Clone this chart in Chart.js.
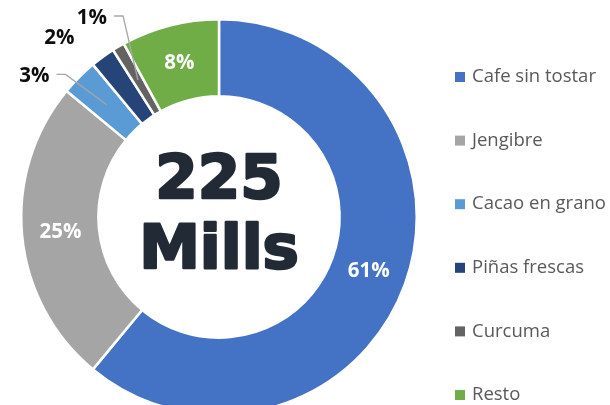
<!DOCTYPE html>
<html>
<head>
<meta charset="utf-8">
<script src="https://cdn.jsdelivr.net/npm/chart.js@4.4.1/dist/chart.umd.min.js"></script>
<style>
  html, body { margin: 0; padding: 0; background: #fff; }
  #wrap { width: 610px; height: 405px; overflow: hidden; }
</style>
</head>
<body>
<div id="wrap"><canvas id="myChart" width="610" height="440"></canvas></div>
<script>
const categories = ['Cafe sin tostar', 'Jengibre', 'Cacao en grano', 'Piñas frescas', 'Curcuma', 'Resto'];
const shares = [61, 25, 3, 2, 1, 8];
const centerLines = ['225', 'Mills'];

const colors = ['#4472C4', '#A5A5A5', '#5B9BD5', '#264478', '#636363', '#70AD47'];
// small slices get their label outside: offset from slice middle, and whether a leader line is drawn
const outsideLabels = { 2: [-72, -28, true], 3: [-66, -50, false], 4: [-46, -62, true] };

const sliceLabels = {
    id: 'sliceLabels',
    afterDatasetsDraw(chart) {
        const ctx = chart.ctx;
        const meta = chart.getDatasetMeta(0);
        ctx.save();
        ctx.font = 'bold 20.5px "Open Sans"';
        ctx.textAlign = 'center';
        ctx.textBaseline = 'middle';
        meta.data.forEach((arc, i) => {
            const p = arc.tooltipPosition();
            const txt = shares[i] + '%';
            const out = outsideLabels[i];
            if (!out) {
                ctx.fillStyle = '#fff';
                ctx.fillText(txt, p.x, p.y);
                return;
            }
            const tx = p.x + out[0], ty = p.y + out[1];
            ctx.fillStyle = '#0d0d0d';
            ctx.fillText(txt, tx, ty);
            if (out[2]) {
                const w = ctx.measureText(txt).width;
                ctx.strokeStyle = '#a6a6a6';
                ctx.lineWidth = 1.3;
                ctx.beginPath();
                ctx.moveTo(tx + w / 2 + 7, ty - 2);
                ctx.lineTo(tx + w / 2 + 16, ty - 2);
                ctx.lineTo(p.x, p.y);
                ctx.stroke();
            }
        });
        ctx.restore();
    }
};

const centerText = {
    id: 'centerText',
    afterDraw(chart) {
        const ctx = chart.ctx;
        const arc = chart.getDatasetMeta(0).data[0];
        ctx.save();
        ctx.fillStyle = '#222A35';
        ctx.strokeStyle = '#222A35';
        ctx.lineWidth = 2.5;
        ctx.lineJoin = 'round';
        ctx.textAlign = 'center';
        ctx.textBaseline = 'alphabetic';
        ctx.font = 'bold 61px "DejaVu Sans"';
        ctx.fillText(centerLines[0], arc.x, arc.y - 19);
        ctx.strokeText(centerLines[0], arc.x, arc.y - 19);
        ctx.fillText(centerLines[1], arc.x, arc.y + 51);
        ctx.strokeText(centerLines[1], arc.x, arc.y + 51);
        ctx.restore();
    }
};

// legend on the right, one row per category
const sideLegend = {
    id: 'sideLegend',
    afterDraw(chart) {
        const ctx = chart.ctx;
        const bg = chart.data.datasets[0].backgroundColor;
        ctx.save();
        ctx.font = '18.5px "Open Sans"';
        ctx.textBaseline = 'middle';
        chart.data.labels.forEach((label, i) => {
            const y = 77 + i * 63.6;
            ctx.fillStyle = bg[i];
            ctx.fillRect(455, y - 5, 10, 10);
            ctx.fillStyle = '#595959';
            ctx.fillText(label, 472, y);
        });
        ctx.restore();
    }
};

const chart = new Chart(document.getElementById('myChart'), {
    type: 'doughnut',
    data: {
        labels: categories,
        datasets: [{
            data: shares,
            backgroundColor: colors,
            borderColor: '#fff',
            borderWidth: 2.5
        }]
    },
    options: {
        responsive: false,
        animation: false,
        cutout: '61%',
        layout: { padding: { left: 20, right: 192, top: 18, bottom: 24 } },
        plugins: {
            legend: { display: false },
            tooltip: { enabled: false }
        }
    },
    plugins: [sliceLabels, centerText, sideLegend]
});
</script>
</body>
</html>
